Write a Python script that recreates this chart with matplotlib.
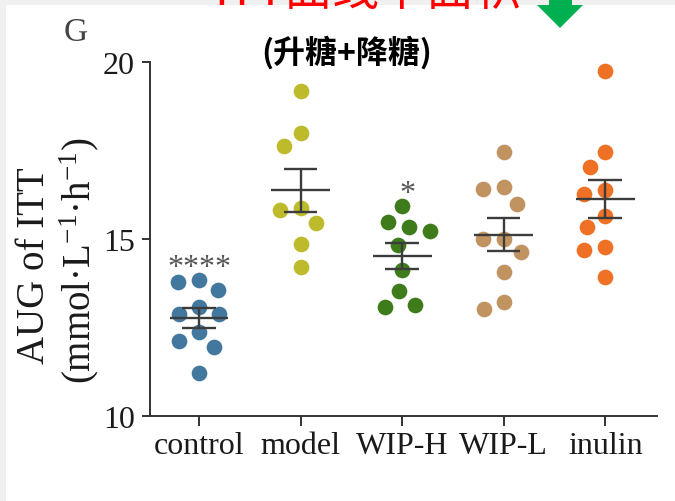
import numpy as np
import matplotlib
matplotlib.use("Agg")
import matplotlib.pyplot as plt
from matplotlib.patches import Rectangle, Polygon

plt.rcParams['mathtext.fontset'] = 'custom'
plt.rcParams['mathtext.rm'] = 'Liberation Serif'
plt.rcParams['mathtext.it'] = 'Liberation Serif:italic'

# ---------------- data ----------------
categories = ["control", "model", "WIP-H", "WIP-L", "inulin"]
control = [13.84, 13.79, 13.56, 13.08, 12.88, 12.88, 12.37, 12.12, 11.95, 11.21]
model = [19.18, 17.99, 17.63, 15.87, 15.82, 15.45, 14.86, 14.21]
wip_h = [15.93, 15.48, 15.34, 15.23, 14.83, 14.12, 13.53, 13.13, 13.08]
wip_l = [17.46, 16.47, 16.41, 15.99, 15.00, 15.00, 14.63, 14.07, 13.22, 13.02]
inulin = [19.75, 17.46, 17.03, 16.38, 16.27, 15.65, 15.34, 14.77, 14.69, 13.93]
significance = ["****", "", "*", "", ""]
yticks = [10, 15, 20]

groups = [control, model, wip_h, wip_l, inulin]
colors = ["#42789d", "#bdbb2b", "#3e7c1b", "#c09361", "#ee7126"]

W, H = 675, 502
fig = plt.figure(figsize=(W / 100, H / 100), dpi=100)
fig.patch.set_facecolor("#f0f0f0")
fig.add_artist(Rectangle((6 / W, 0), 1 - 6 / W, 1 - 6 / H, transform=fig.transFigure,
                         facecolor="white", edgecolor="none", zorder=-10))

ax = fig.add_axes([150 / W, 1 - 417 / H, 507 / W, 354 / H])
ax.set_facecolor("none")
ax.set_xlim(-0.483, 4.51)
ax.set_ylim(10, 20)

# simple swarm layout in pixel space
D = 21.0
ms_pt = 11.3
for i, (vals, col) in enumerate(zip(groups, colors)):
    vals = np.array(vals, dtype=float)
    order = np.argsort(-vals)
    cx, _ = ax.transData.transform((i, 10))
    placed = []
    xs = np.zeros(len(vals))
    for k in order:
        _, py = ax.transData.transform((i, vals[k]))
        best = None
        for step in range(0, 80):
            for sgn in ([0] if step == 0 else [-1, 1]):
                dx = sgn * step
                ok = all((dx - qx) ** 2 + (py - qy) ** 2 >= D ** 2 for qx, qy in placed)
                if ok:
                    best = dx
                    break
            if best is not None:
                break
        placed.append((best, py))
        xs[k] = ax.transData.inverted().transform((cx + best, py))[0]
    ax.plot(xs, vals, "o", ms=ms_pt, color=col, mec="none", zorder=2, clip_on=False)
    m = vals.mean()
    sem = vals.std(ddof=1) / np.sqrt(len(vals))
    lc = "#3c3c3c"
    ax.hlines(m, i - 0.29, i + 0.29, color=lc, lw=1.7, zorder=3)
    ax.vlines(i, m - sem, m + sem, color=lc, lw=1.7, zorder=3)
    ax.hlines([m - sem, m + sem], i - 0.165, i + 0.165, color=lc, lw=1.7, zorder=3)
    if significance[i]:
        ax.text(i + (0.05 if len(significance[i]) == 1 else 0.0), vals.max() + 0.15,
                significance[i], ha="center", va="baseline", fontsize=23,
                family="Liberation Serif", color="#555555", zorder=4)

for s in ["top", "right"]:
    ax.spines[s].set_visible(False)
for s in ["left", "bottom"]:
    ax.spines[s].set_color("#333333")
    ax.spines[s].set_linewidth(1.4)

ax.set_yticks(yticks)
ax.set_xticks(range(len(categories)))
ax.set_xticklabels(categories)
ax.tick_params(axis="y", length=6, width=1.4, color="#333333", pad=5,
               labelsize=23, labelcolor="#1a1a1a")
ax.tick_params(axis="x", length=7, width=1.4, color="#333333", pad=4,
               labelsize=23, labelcolor="#1a1a1a")
for lab in ax.get_xticklabels() + ax.get_yticklabels():
    lab.set_family("Liberation Serif")

# y label (two lines)
fig.text(35 / W, 1 - 266 / H, "AUG of ITT", rotation=90, ha="center", va="center",
         fontsize=28, family="Liberation Serif", color="#1a1a1a")
fig.text(79 / W, 1 - 261 / H, "(mmol·L$^{-1}$·h$^{-1}$)", rotation=90, ha="center",
         va="center", fontsize=28, family="Liberation Serif", color="#1a1a1a")

# panel letter
fig.text(76 / W, 1 - 33 / H, "G", ha="center", va="center", fontsize=24,
         family="Liberation Serif", color="#444444")

# subtitle
fig.text(347 / W, 1 - 53 / H, "(升糖+降糖)", ha="center", va="center", fontsize=23,
         family=["Noto Sans CJK SC", "DejaVu Sans"], weight="bold", color="black")

# red heading cut off at the top
fig.text(368 / W, 1 - 5 / H, "ITT曲线下面积", ha="center", va="baseline", fontsize=34,
         family=["Noto Sans CJK SC", "DejaVu Sans"], color="red")

# green arrow
pts = [(549, -5), (572, -5), (572, 6), (583, 6), (560, 29), (537, 6), (549, 6)]
fig.add_artist(Polygon([(x / W, 1 - y / H) for x, y in pts], closed=True,
                       transform=fig.transFigure, facecolor="#00b050", edgecolor="none"))

fig.savefig("out.png", dpi=100, facecolor=fig.get_facecolor())
